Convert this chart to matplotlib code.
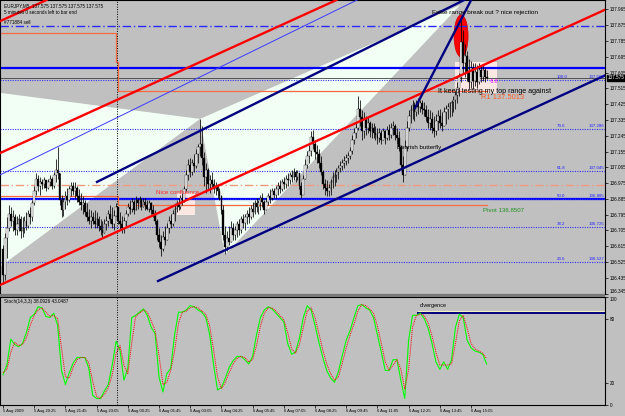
import numpy as np
import matplotlib
matplotlib.use("Agg")
import matplotlib.pyplot as plt
from matplotlib.patches import Polygon, Rectangle, Ellipse

plt.rcParams['font.family'] = ['Liberation Sans', 'DejaVu Sans']

BG = '#c0c0c0'
WHITE_OBJ = '#f2fff5'

# ---- EURJPY M5 candles ----
first_open = 136.60
bar_high = [
    136.62, 136.69, 136.78, 136.85, 136.84, 136.82, 136.80, 136.79, 136.80, 136.79,
    136.78, 136.79, 136.81, 136.82, 136.84, 136.88, 136.96, 137.03, 137.02, 137.01,
    137.00, 137.01, 136.99, 137.00, 137.02, 137.01, 137.04, 137.11, 137.18, 137.03,
    136.91, 136.89, 136.93, 136.95, 136.96, 136.98, 136.98, 136.98, 136.96, 136.94,
    136.92, 136.90, 136.88, 136.86, 136.83, 136.82, 136.81, 136.82, 136.81, 136.79,
    136.77, 136.76, 136.77, 136.79, 136.82, 136.85, 136.84, 136.82, 136.86, 136.83,
    136.81, 136.79, 136.78, 136.82, 136.86, 136.88, 136.89, 136.88, 136.90, 136.89,
    136.90, 136.89, 136.89, 136.89, 136.88, 136.88, 136.87, 136.85, 136.82, 136.77,
    136.72, 136.68, 136.70, 136.73, 136.75, 136.79, 136.80, 136.82, 136.85, 136.88,
    136.89, 136.91, 136.92, 136.96, 137.05, 137.11, 137.12, 137.11, 137.14, 137.17,
    137.20, 137.34, 137.30, 137.15, 137.09, 137.06, 137.02, 137.04, 137.00, 136.98,
    136.97, 136.95, 136.91, 136.85, 136.73, 136.70, 136.73, 136.76, 136.75, 136.73,
    136.76, 136.77, 136.79, 136.80, 136.80, 136.82, 136.84, 136.85, 136.87, 136.88,
    136.89, 136.88, 136.91, 136.92, 136.88, 136.89, 136.92, 136.94, 136.95, 136.95,
    136.96, 136.98, 136.99, 137.00, 137.01, 137.02, 137.03, 137.04, 137.05, 137.06,
    137.05, 137.05, 137.02, 136.98, 137.02, 137.11, 137.16, 137.19, 137.27, 137.28,
    137.22, 137.19, 137.17, 137.13, 137.05, 137.00, 136.99, 136.97, 137.00, 137.04,
    137.05, 137.06, 137.08, 137.10, 137.11, 137.13, 137.14, 137.15, 137.18, 137.25,
    137.29, 137.32, 137.47, 137.45, 137.39, 137.38, 137.36, 137.35, 137.33, 137.32,
    137.32, 137.30, 137.29, 137.29, 137.28, 137.29, 137.28, 137.30, 137.31, 137.32,
    137.33, 137.31, 137.29, 137.27, 137.19, 137.13, 137.22, 137.33, 137.39, 137.42,
    137.45, 137.44, 137.45, 137.46, 137.45, 137.45, 137.44, 137.42, 137.40, 137.39,
    137.38, 137.36, 137.37, 137.39, 137.40, 137.38, 137.41, 137.42, 137.43, 137.44,
    137.45, 137.47, 137.50, 137.55, 137.60, 137.91, 137.85, 137.77, 137.73, 137.68,
    137.67, 137.66, 137.66, 137.65, 137.66, 137.65, 137.65, 137.63, 137.62,
]
bar_low = [
    136.40, 136.42, 136.55, 136.70, 136.73, 136.70, 136.68, 136.68, 136.70, 136.66,
    136.67, 136.69, 136.71, 136.72, 136.74, 136.76, 136.85, 136.91, 136.93, 136.91,
    136.94, 136.95, 136.93, 136.94, 136.96, 136.94, 136.95, 136.98, 137.00, 136.85,
    136.78, 136.79, 136.83, 136.85, 136.87, 136.90, 136.91, 136.89, 136.87, 136.85,
    136.82, 136.80, 136.79, 136.76, 136.74, 136.72, 136.74, 136.72, 136.72, 136.70,
    136.68, 136.67, 136.69, 136.71, 136.73, 136.75, 136.72, 136.71, 136.79, 136.74,
    136.71, 136.69, 136.69, 136.73, 136.79, 136.80, 136.81, 136.80, 136.82, 136.83,
    136.84, 136.82, 136.84, 136.82, 136.82, 136.81, 136.80, 136.78, 136.74, 136.65,
    136.61, 136.56, 136.59, 136.62, 136.65, 136.69, 136.72, 136.73, 136.76, 136.81,
    136.82, 136.83, 136.85, 136.87, 136.93, 136.99, 137.01, 137.02, 137.04, 137.06,
    137.09, 137.13, 137.08, 136.96, 136.92, 136.94, 136.92, 136.95, 136.92, 136.91,
    136.89, 136.88, 136.80, 136.65, 136.57, 136.59, 136.62, 136.64, 136.65, 136.65,
    136.67, 136.68, 136.69, 136.72, 136.71, 136.74, 136.75, 136.77, 136.78, 136.80,
    136.81, 136.80, 136.82, 136.84, 136.80, 136.82, 136.85, 136.86, 136.88, 136.89,
    136.89, 136.91, 136.92, 136.93, 136.94, 136.95, 136.96, 136.97, 136.98, 136.99,
    136.98, 136.99, 136.94, 136.89, 136.92, 137.00, 137.06, 137.09, 137.13, 137.17,
    137.11, 137.09, 137.06, 137.02, 136.94, 136.91, 136.90, 136.90, 136.91, 136.95,
    136.96, 136.98, 137.00, 137.04, 137.05, 137.06, 137.08, 137.09, 137.11, 137.14,
    137.20, 137.23, 137.28, 137.30, 137.22, 137.23, 137.25, 137.26, 137.24, 137.23,
    137.23, 137.22, 137.20, 137.21, 137.20, 137.22, 137.20, 137.22, 137.22, 137.23,
    137.25, 137.22, 137.20, 137.16, 137.05, 136.98, 137.02, 137.16, 137.27, 137.32,
    137.34, 137.33, 137.36, 137.37, 137.38, 137.37, 137.36, 137.33, 137.29, 137.28,
    137.26, 137.24, 137.25, 137.28, 137.29, 137.27, 137.30, 137.31, 137.34, 137.35,
    137.36, 137.38, 137.40, 137.43, 137.47, 137.55, 137.60, 137.58, 137.56, 137.51,
    137.52, 137.51, 137.53, 137.52, 137.54, 137.55, 137.56, 137.55, 137.57,
]
bar_close = [
    136.45, 136.66, 136.72, 136.80, 136.76, 136.78, 136.71, 136.74, 136.77, 136.70,
    136.72, 136.76, 136.73, 136.80, 136.78, 136.86, 136.93, 137.00, 136.96, 136.98,
    136.97, 136.99, 136.95, 136.98, 137.00, 136.96, 137.02, 137.05, 137.03, 136.88,
    136.82, 136.87, 136.90, 136.88, 136.94, 136.96, 136.93, 136.95, 136.90, 136.87,
    136.85, 136.86, 136.81, 136.78, 136.76, 136.78, 136.76, 136.74, 136.77, 136.73,
    136.71, 136.69, 136.74, 136.76, 136.80, 136.77, 136.74, 136.79, 136.84, 136.76,
    136.74, 136.72, 136.76, 136.80, 136.84, 136.83, 136.87, 136.82, 136.88, 136.86,
    136.88, 136.84, 136.87, 136.85, 136.83, 136.86, 136.82, 136.80, 136.76, 136.68,
    136.64, 136.60, 136.67, 136.65, 136.72, 136.76, 136.74, 136.80, 136.83, 136.86,
    136.84, 136.89, 136.87, 136.94, 137.02, 137.08, 137.04, 137.09, 137.07, 137.14,
    137.18, 137.20, 137.12, 137.01, 137.05, 136.97, 136.99, 136.97, 136.94, 136.96,
    136.93, 136.90, 136.82, 136.68, 136.61, 136.66, 136.64, 136.72, 136.68, 136.71,
    136.74, 136.71, 136.77, 136.75, 136.78, 136.80, 136.78, 136.83, 136.81, 136.86,
    136.84, 136.86, 136.89, 136.87, 136.82, 136.87, 136.90, 136.89, 136.93, 136.91,
    136.94, 136.96, 136.94, 136.98, 136.97, 137.00, 136.99, 137.02, 137.01, 137.04,
    137.01, 137.03, 136.96, 136.91, 137.00, 137.08, 137.13, 137.16, 137.24, 137.20,
    137.15, 137.14, 137.09, 137.04, 136.97, 136.95, 136.93, 136.95, 136.98, 137.01,
    137.02, 137.04, 137.06, 137.07, 137.09, 137.10, 137.12, 137.13, 137.16, 137.22,
    137.26, 137.29, 137.40, 137.35, 137.27, 137.34, 137.29, 137.32, 137.27, 137.29,
    137.26, 137.25, 137.23, 137.26, 137.22, 137.27, 137.23, 137.28, 137.25, 137.29,
    137.30, 137.25, 137.23, 137.18, 137.08, 137.02, 137.18, 137.29, 137.36, 137.39,
    137.42, 137.38, 137.43, 137.41, 137.43, 137.40, 137.39, 137.35, 137.32, 137.34,
    137.29, 137.27, 137.33, 137.36, 137.32, 137.30, 137.38, 137.40, 137.41, 137.43,
    137.44, 137.45, 137.48, 137.52, 137.58, 137.78, 137.66, 137.70, 137.60, 137.55,
    137.63, 137.56, 137.61, 137.55, 137.62, 137.58, 137.62, 137.58, 137.575,
]

# Stochastic(14,3,3), one reading every second bar
stoch_main = [
    28, 37, 61, 56, 54, 57, 67, 81, 84, 91, 90, 82, 81, 85, 74, 32, 19, 30, 39, 44,
    44, 44, 34, 9, 6, 6, 13, 19, 37, 59, 51, 23, 34, 81, 83, 86, 89, 83, 72, 66,
    26, 12, 29, 34, 65, 86, 86, 88, 92, 91, 88, 86, 81, 65, 37, 14, 16, 25, 35, 41,
    45, 45, 42, 38, 45, 65, 81, 88, 91, 89, 85, 81, 77, 57, 47, 49, 62, 81, 92, 88,
    74, 58, 44, 32, 25, 21, 31, 46, 60, 69, 81, 92, 93, 90, 88, 81, 65, 49, 32, 32,
    42, 42, 23, 6, 60, 83, 83, 85, 80, 71, 57, 40, 33, 40, 33, 42, 72, 84, 81, 60,
    53, 50, 49, 47, 38,
]
stoch_signal = [
    30, 33, 49, 58, 55, 56, 62, 74, 83, 88, 90, 86, 82, 83, 80, 53, 26, 25, 35, 42,
    44, 44, 39, 22, 8, 6, 10, 16, 28, 48, 55, 37, 29, 57, 82, 85, 88, 86, 78, 69,
    46, 19, 21, 32, 50, 76, 86, 87, 90, 91, 90, 87, 84, 73, 51, 26, 15, 21, 30, 38,
    43, 45, 44, 40, 42, 55, 73, 85, 90, 90, 87, 83, 79, 67, 52, 48, 56, 72, 87, 90,
    81, 66, 51, 38, 29, 23, 26, 39, 53, 65, 75, 87, 93, 92, 89, 85, 73, 57, 40, 32,
    37, 42, 33, 15, 33, 72, 83, 84, 83, 76, 64, 49, 37, 37, 37, 38, 57, 78, 83, 71,
    57, 52, 50, 48, 43,
]

time_ticks = [0, 16, 32, 48, 64, 80, 96, 112, 128, 144, 160, 176, 192, 208, 224, 240]
time_labels = ["5 Aug 2009", "5 Aug 20:25", "5 Aug 21:45", "5 Aug 23:05", "6 Aug 00:25",
               "6 Aug 01:45", "6 Aug 03:05", "6 Aug 04:25", "6 Aug 05:45", "6 Aug 07:05",
               "6 Aug 08:25", "6 Aug 09:45", "6 Aug 11:05", "6 Aug 12:25", "6 Aug 13:45",
               "6 Aug 15:05"]
price_ticks = [137.965, 137.875, 137.785, 137.695, 137.605, 137.515, 137.425, 137.335,
               137.245, 137.155, 137.065, 136.975, 136.885, 136.795, 136.705, 136.615,
               136.525, 136.435, 136.345]
stoch_ticks = [100, 80, 20, 0]

# fibonacci retracement
fib_levels = [100.0, 79.6, 61.8, 50.0, 38.2, 23.6]
fib_prices = [137.563, 137.286, 137.045, 136.885, 136.725, 136.527]

# daily pivot indicator: previous day / current day
day_split = 58.0
r1_prev, r1_now = 137.831, 137.5013
pivot_prev, pivot_now = 136.902, 136.8507

# horizontal objects
sell_order = 137.871
blue_levels = [137.631, 136.885]
salmon_level = 136.967
bid = 137.575

# harmonic pattern points (bar, price)
pat_X = (-16.9, 137.512)
pat_A = (-16.9, 136.372)
pat_B = (101.0, 137.341)
pat_C = (113.8, 136.566)
pat_D = (234.4, 137.990)

# trend lines: two anchor points each
red_lines = [((0, 136.402), (240, 137.616)),
             ((0, 137.154), (240, 138.368)),
             ((0, 137.906), (240, 139.120))]
thin_blue = ((0, 137.030), (150, 137.847))
navy_rays = [((48.2, 136.982), (213.8, 137.894)),
             ((79.5, 136.417), (308.7, 137.589)),
             ((211.3, 137.403), (237.4, 137.962))]

x_min, x_max = -1.54, 308.7
y_min, y_max = 136.343, 138.019

fig = plt.figure(figsize=(6.25, 4.16), dpi=100, facecolor=BG)
ax = fig.add_axes([0.0, 0.2933, 0.968, 0.7067])
ax2 = fig.add_axes([0.0, 0.0264, 0.968, 0.2596])
for a in (ax, ax2):
    a.set_facecolor(BG)
    for s in a.spines.values():
        s.set_color('black')
        s.set_linewidth(0.8)
    a.set_xlim(x_min, x_max)

# panel separator
fig.patches.append(Rectangle((0, 0.2868), 0.968, 0.0065, transform=fig.transFigure,
                             facecolor='#7a7a7a', edgecolor='none'))

# --- background objects ---
ax.add_patch(Polygon([pat_X, pat_B, pat_A], closed=True, facecolor=WHITE_OBJ,
                     edgecolor='none', zorder=0.5))
ax.add_patch(Polygon([pat_B, pat_C, pat_D], closed=True, facecolor=WHITE_OBJ,
                     edgecolor='none', zorder=0.5))
ax.add_patch(Rectangle((231.8, 137.489), 21.5, 0.177, facecolor='#fbe8e3',
                       edgecolor='none', zorder=0.6))
ax.add_patch(Rectangle((89.2, 136.794), 9.3, 0.125, facecolor='#fbe8e3',
                       edgecolor='none', zorder=0.6))
ax.add_patch(Ellipse((234.9, 137.814), 7.2, 0.239, facecolor='#ff0000',
                     edgecolor='#d00000', lw=0.5, zorder=1))

# horizontal lines
ax.axhline(sell_order, color='#2a2aff', lw=1.0, ls=(0, (6, 2, 1, 2)), zorder=2)
for lv in blue_levels:
    ax.axhline(lv, color='#0000ff', lw=1.6, zorder=2)
ax.axhline(salmon_level, color='#f09a80', lw=1.0, ls=(0, (6, 2, 1, 2)), zorder=2)
for lv in fib_prices:
    ax.axhline(lv, color='#3030ff', lw=0.8, ls=(0, (1, 1.2)), zorder=2)
ax.axhline(bid, color='#404040', lw=0.6, zorder=2)

# pivot steps
n = len(bar_close)
ax.plot([x_min, day_split, day_split, day_split + 1, day_split + 1, n - 1],
        [r1_prev, r1_prev, (r1_prev + r1_now) / 2, (r1_prev + r1_now) / 2, r1_now, r1_now],
        color='#ff6a40', lw=0.9, zorder=2)
ax.plot([x_min, day_split, day_split + 1, day_split + 1, n - 1],
        [pivot_prev, pivot_prev, pivot_prev, pivot_now, pivot_now],
        color='#ff6a40', lw=0.9, zorder=2)

# period separator
for a in (ax, ax2):
    a.axvline(day_split + 0.5, color='black', lw=0.7, ls=(0, (1, 1.5)), zorder=2)

# --- candles ---
bars = np.arange(n)
opens = [first_open] + bar_close[:-1]
ax.vlines(bars, bar_low, bar_high, color='black', lw=0.55, zorder=3)
for i in range(n):
    o, c = opens[i], bar_close[i]
    lo, hi = min(o, c), max(o, c)
    if hi - lo < 0.004:
        hi = lo + 0.004
    if c >= o:
        ax.add_patch(Rectangle((i - 0.45, lo), 0.9, hi - lo, facecolor='white',
                               edgecolor='black', lw=0.25, zorder=3.1))
    else:
        ax.add_patch(Rectangle((i - 0.45, lo), 0.9, hi - lo, facecolor='black',
                               edgecolor='black', lw=0.25, zorder=3.1))

# --- trend lines ---
for p0, p1 in red_lines:
    ax.axline(p0, p1, color='#ff0000', lw=1.7, zorder=4)
ax.axline(thin_blue[0], thin_blue[1], color='#3b3bff', lw=0.7, zorder=4)
for p0, p1 in navy_rays:
    far = (p0[0] + (p1[0] - p0[0]) * 20, p0[1] + (p1[1] - p0[1]) * 20)
    ax.plot([p0[0], far[0]], [p0[1], far[1]], color='#000080', lw=1.7, zorder=4)

ax.set_ylim(y_min, y_max)
ax.set_xlim(x_min, x_max)

# fib labels
for lvl, pr in zip(fib_levels, fib_prices):
    ax.text(284.0, pr + 0.004, f"{lvl:.1f}", fontsize=3.2, color='#2020ff',
            va='bottom', ha='left', zorder=5)
    ax.text(300.5, pr + 0.004, f"{pr:.3f}", fontsize=3.2, color='#2020ff',
            va='bottom', ha='left', zorder=5)

# annotations
ax.text(220.0, 137.950, "False range break out ? nice rejection", fontsize=4.6,
        color='black', va='center', ha='left', zorder=5)
ax.text(223.0, 137.500, "It keep testing my top range against", fontsize=5.1,
        color='black', va='center', ha='left', zorder=5)
ax.text(245.0, 137.463, "R1 137.5013", fontsize=5.4, color='#ff5a2a',
        va='center', ha='left', zorder=5)
ax.text(249.5, 137.552, "-5.8", fontsize=3.5, color='#ff00ff', va='center',
        ha='left', zorder=5)
ax.text(202.0, 137.180, "Bearish butterfly", fontsize=4.4, color='black',
        va='center', ha='left', zorder=5)
ax.text(78.5, 136.920, "Nice confluence", fontsize=4.4, color='#ff2a2a',
        va='center', ha='left', zorder=5)
ax.text(246.0, 136.820, "Pivot 136.8507", fontsize=4.4, color='#1f8f1f',
        va='center', ha='left', zorder=5)

ax.text(0.006, 0.982, "EURJPY,M5  137.575 137.575 137.575 137.575", fontsize=3.3,
        transform=ax.transAxes, va='center', ha='left', zorder=5)
ax.text(0.006, 0.958, "5 minutes 0 seconds left to bar end", fontsize=3.3,
        transform=ax.transAxes, va='center', ha='left', zorder=5)
ax.text(0.006, 0.925, "#771884 sell", fontsize=3.3,
        transform=ax.transAxes, va='center', ha='left', zorder=5)

# price axis
ax.yaxis.tick_right()
ax.set_yticks(price_ticks)
ax.set_yticklabels([f"{t:.3f}" for t in price_ticks])
ax.tick_params(axis='y', labelsize=3.3, length=2, width=0.5, pad=1.2)
ax.get_yticklabels()[-1].set_va('bottom')
ax.set_xticks([])
ax.annotate(f"{bid:.3f}", xy=(1.0, bid), xycoords=('axes fraction', 'data'),
            xytext=(2.0, 0), textcoords='offset points', fontsize=3.3, color='white',
            va='center', ha='left',
            bbox=dict(boxstyle='square,pad=0.15', fc='black', ec='black'), zorder=6)

# --- stochastic panel ---
sb = bars[::2]
ax2.plot(sb, stoch_main, color='#00ff00', lw=0.8, zorder=3)
ax2.plot(sb, stoch_signal, color='#ff0000', lw=0.7, ls=(0, (1, 1)), zorder=3.1)
ax2.plot([212.9, x_max], [87, 87], color='#f4f0c0', lw=0.8, zorder=2)
ax2.plot([212.9, x_max], [85.2, 85.2], color='#000080', lw=1.4, zorder=2)
ax2.text(213.8, 90, "divergence", fontsize=4.0, va='bottom', ha='left', zorder=5)
ax2.text(0.006, 0.96, "Stoch(14,3,3) 38.0926 43.0487", fontsize=3.3,
         transform=ax2.transAxes, va='center', ha='left', zorder=5)
ax2.set_ylim(0, 100)
ax2.yaxis.tick_right()
ax2.set_yticks(stoch_ticks)
ax2.set_yticklabels([str(t) for t in stoch_ticks])
ax2.tick_params(axis='y', labelsize=3.3, length=2, width=0.5, pad=1.2)
ax2.get_yticklabels()[0].set_va('top')
ax2.set_xticks(time_ticks)
ax2.set_xticklabels(time_labels, ha='left')
ax2.tick_params(axis='x', labelsize=3.0, length=2, width=0.5, pad=0.8)

fig.savefig("out.png", dpi=100, facecolor=BG)
